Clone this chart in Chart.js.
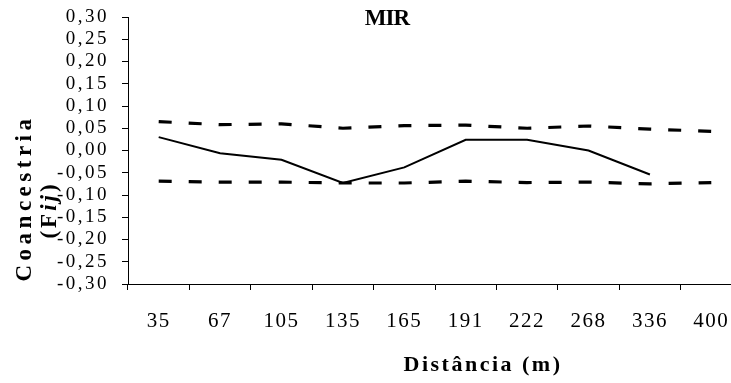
<!DOCTYPE html>
<html>
<head>
<meta charset="utf-8">
<script src="https://cdn.jsdelivr.net/npm/chart.js@4/dist/chart.umd.min.js"></script>
<style>
  html, body { margin: 0; padding: 0; background: #fff; overflow: hidden; width: 731px; height: 383px; }
  canvas { display: block; }
</style>
</head>
<body>
<canvas id="c" width="742" height="383"></canvas>
<script>
// ---- data ----
const categories = ['35', '67', '105', '135', '165', '191', '222', '268', '336', '400'];
const observedFij = [0.030, -0.006, -0.021, -0.073, -0.038, 0.024, 0.024, 0.000, -0.054, null];
const upperLimit = [0.065, 0.058, 0.060, 0.050, 0.056, 0.057, 0.050, 0.055, 0.048, 0.043];
const lowerLimit = [-0.069, -0.071, -0.071, -0.073, -0.073, -0.069, -0.072, -0.071, -0.075, -0.072];
const yTickLabels = ['-0,30', '-0,25', '-0,20', '-0,15', '-0,10', '-0,05', '0,00', '0,05', '0,10', '0,15', '0,20', '0,25', '0,30'];
const chartTitle = 'MIR';
const xTitle = 'Distância (m)';
const yTitleLine1 = 'Coancestria';
const yTitleLine2 = [['(F', false], ['ij', true], [')', false]];

const SERIF = '"Liberation Serif", "Times New Roman", serif';

const spacingPlugin = {
  id: 'spacing',
  afterLayout(chart) {
    const wrap = (scale, spacing) => {
      if (!scale || scale._wrapped) return;
      const orig = scale.drawLabels.bind(scale);
      scale.drawLabels = function (area) {
        const ctx = chart.ctx;
        ctx.save();
        ctx.letterSpacing = spacing;
        orig(area);
        ctx.restore();
      };
      scale._wrapped = true;
    };
    wrap(chart.scales.y, '2.5px');
    wrap(chart.scales.x, '1.5px');
  },
  afterDraw(chart) {
    const ctx = chart.ctx;
    ctx.save();
    ctx.fillStyle = '#000';
    ctx.textBaseline = 'middle';
    ctx.textAlign = 'center';
    // chart title
    ctx.font = 'bold 23px ' + SERIF;
    ctx.letterSpacing = '-1px';
    ctx.fillText(chartTitle, 387, 19);
    // x title
    ctx.font = 'bold 22px ' + SERIF;
    ctx.letterSpacing = '2.5px';
    ctx.fillText(xTitle, 483, 365);
    // y title line 1
    ctx.save();
    ctx.translate(25, 198);
    ctx.rotate(-Math.PI / 2);
    ctx.font = 'bold 23px ' + SERIF;
    ctx.letterSpacing = '4.5px';
    ctx.fillText(yTitleLine1, 0, 0);
    ctx.restore();
    // y title line 2 (rich)
    ctx.save();
    ctx.translate(50, 210);
    ctx.rotate(-Math.PI / 2);
    ctx.letterSpacing = '3px';
    ctx.textAlign = 'left';
    let total = 0;
    const widths = yTitleLine2.map(([t, it]) => {
      ctx.font = (it ? 'italic ' : '') + 'bold 23px ' + SERIF;
      const w = ctx.measureText(t).width;
      total += w;
      return w;
    });
    let x = -total / 2;
    yTitleLine2.forEach(([t, it], i) => {
      ctx.font = (it ? 'italic ' : '') + 'bold 23px ' + SERIF;
      ctx.fillText(t, x, 0);
      x += widths[i];
    });
    ctx.restore();
    ctx.restore();
  }
};

new Chart(document.getElementById('c'), {
  type: 'line',
  data: {
    labels: categories,
    datasets: [
      {
        label: 'Fij',
        data: observedFij,
        borderColor: '#000',
        borderWidth: 2,
        pointRadius: 0,
        tension: 0,
        fill: false
      },
      {
        label: 'Upper',
        data: upperLimit,
        borderColor: '#000',
        borderWidth: 3.2,
        borderDash: [13, 17],
        pointRadius: 0,
        tension: 0,
        fill: false
      },
      {
        label: 'Lower',
        data: lowerLimit,
        borderColor: '#000',
        borderWidth: 3.2,
        borderDash: [13, 17],
        pointRadius: 0,
        tension: 0,
        fill: false
      }
    ]
  },
  options: {
    responsive: false,
    animation: false,
    devicePixelRatio: 1,
    layout: { padding: { top: 17, left: 0, right: 0, bottom: 0 } },
    plugins: {
      legend: { display: false },
      title: { display: false },
      tooltip: { enabled: false }
    },
    scales: {
      x: {
        offset: true,
        grid: {
          offset: true,
          drawOnChartArea: false,
          drawTicks: true,
          tickLength: 6,
          color: '#000'
        },
        border: { display: true, color: '#000', width: 1 },
        ticks: {
          color: '#000',
          font: { family: SERIF, size: 21 },
          padding: 19,
          maxRotation: 0,
          autoSkip: false
        },
        afterFit(scale) {
          scale.height = 99;
          scale.paddingLeft = 0;
          scale.paddingRight = 0;
        }
      },
      y: {
        min: -0.3,
        max: 0.3,
        grid: {
          drawOnChartArea: false,
          drawTicks: true,
          tickLength: 6,
          color: '#000'
        },
        border: { display: true, color: '#000', width: 1 },
        ticks: {
          stepSize: 0.05,
          color: '#000',
          font: { family: SERIF, size: 19 },
          padding: 13,
          autoSkip: false,
          callback: (v, i) => yTickLabels[i]
        },
        afterFit(scale) {
          scale.width = 128;
          scale.paddingTop = 0;
          scale.paddingBottom = 0;
        }
      }
    }
  },
  plugins: [spacingPlugin]
});
</script>
</body>
</html>
